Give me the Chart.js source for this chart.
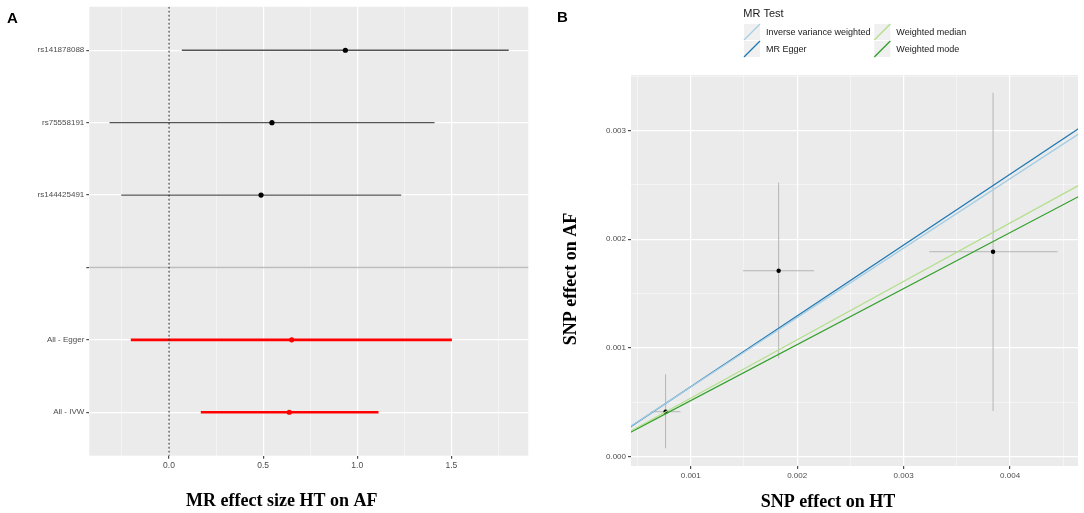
<!DOCTYPE html>
<html>
<head>
<meta charset="utf-8">
<title>MR forest and scatter plot</title>
<script src="https://cdn.jsdelivr.net/npm/chart.js@4.4.1/dist/chart.umd.min.js"></script>
<style>
  body { margin: 0; background: #fff; }
  #wrap { position: relative; width: 1084px; height: 513px; }
  canvas { position: absolute; top: 0; }
  #forest { left: 0; }
  #scatter { left: 540px; }
</style>
</head>
<body>
<div id="wrap">
  <canvas id="forest" width="540" height="513"></canvas>
  <canvas id="scatter" width="544" height="513"></canvas>
</div>
<script>
// --- Panel A: forest plot, rows top to bottom ('' is the separator row) ---
const forestRows = ['rs141878088', 'rs75558191', 'rs144425491', '', 'All - Egger', 'All - IVW'];
const forestEst  = [0.937, 0.547, 0.489, null, 0.652, 0.639];
const forestLow  = [0.068, -0.316, -0.254, null, -0.203, 0.169];
const forestHigh = [1.805, 1.411, 1.234, null, 1.503, 1.113];
const forestTicks = [0, 0.5, 1.0, 1.5];

// --- Panel B: SNP effects with error bars ---
const snpHT     = [0.000764, 0.001826, 0.00384];
const snpHTLow  = [0.000627, 0.001491, 0.00324];
const snpHTHigh = [0.000904, 0.002159, 0.004446];
const snpAF     = [0.000412, 0.001709, 0.001884];
const snpAFLow  = [0.0000754, 0.000903, 0.000419];
const snpAFHigh = [0.000756, 0.002519, 0.003347];

// MR method fits (slope, intercept)
const methods    = ['Inverse variance weighted', 'MR Egger', 'Weighted median', 'Weighted mode'];
const slopes     = [0.639, 0.652, 0.537, 0.515];
const intercepts = [0, -0.00001, 0, 0];

const scatterXTicks = [0.001, 0.002, 0.003, 0.004];
const scatterYTicks = [0.000, 0.001, 0.002, 0.003];

const methodColors = ['#a6cee3', '#1f78b4', '#b2df8a', '#33a02c'];
const tickColor = '#4d4d4d';
const sansFont = '"Liberation Sans", Arial, sans-serif';
const serifFont = '"Liberation Serif", "Times New Roman", serif';

Chart.defaults.font.family = sansFont;

const panelBg = {
    id: 'panelBg',
    beforeDraw(chart) {
        const { ctx, chartArea: a } = chart;
        ctx.save();
        ctx.fillStyle = '#ebebeb';
        ctx.fillRect(a.left, a.top, a.right - a.left, a.bottom - a.top);
        ctx.restore();
    }
};

function isOn(v, list) {
    return list.some(t => Math.abs(t - v) < 1e-9);
}

// majors plus the half-step minors that fall inside [min, max]
function withMinors(majors, min, max) {
    const step = majors[1] - majors[0];
    const out = [];
    const first = majors[0] - step / 2;
    for (let v = first - step * 4; v <= max + 1e-12; v += step / 2) {
        const r = Math.round(v / (step / 2)) * (step / 2);
        if (r >= min - 1e-12) out.push(r);
    }
    return out;
}

function gridStyle(majors) {
    return {
        color: ctx => isOn(ctx.tick.value, majors) ? '#ffffff' : 'rgba(255,255,255,0.75)',
        lineWidth: ctx => isOn(ctx.tick.value, majors) ? 1.2 : 0.6,
        tickColor: ctx => isOn(ctx.tick.value, majors) ? tickColor : 'rgba(0,0,0,0)',
        tickLength: 3,
        drawTicks: true
    };
}

// ===================== PANEL A =====================
const nRows = forestRows.length;
const forestXMin = -0.4235, forestXMax = 1.909;
const forestDatasets = [];

forestRows.forEach((label, i) => {
    const y = nRows - 1 - i;
    if (label === '') {
        forestDatasets.push({
            data: [{ x: forestXMin - 1, y: y }, { x: forestXMax + 1, y: y }],
            showLine: true, borderColor: '#bdbdbd', borderWidth: 1.5,
            pointRadius: 0, order: 3
        });
        return;
    }
    const summary = label.startsWith('All');
    forestDatasets.push({
        data: [{ x: forestLow[i], y: y }, { x: forestHigh[i], y: y }],
        showLine: true,
        borderColor: summary ? '#ff0000' : '#555555',
        borderWidth: summary ? 2.6 : 1.3,
        pointRadius: 0, order: 2
    });
});

forestDatasets.push({
    data: [{ x: 0, y: -1 }, { x: 0, y: nRows }],
    showLine: true, borderColor: '#222222', borderWidth: 1,
    borderDash: [2, 2], pointRadius: 0, order: 1
});

forestDatasets.push({
    data: forestRows.map((label, i) => label === '' ? null : { x: forestEst[i], y: nRows - 1 - i }).filter(p => p),
    pointRadius: 2.6,
    pointBackgroundColor: forestRows.filter(l => l !== '').map(l => l.startsWith('All') ? '#ff0000' : '#000000'),
    pointBorderWidth: 0,
    order: 0
});

const forestLabels = {
    id: 'forestLabels',
    afterDraw(chart) {
        const { ctx, chartArea: a } = chart;
        ctx.save();
        ctx.fillStyle = '#000';
        ctx.textBaseline = 'middle';
        ctx.font = 'bold 15px ' + sansFont;
        ctx.textAlign = 'left';
        ctx.fillText('A', 7, 19);
        ctx.font = 'bold 18px ' + serifFont;
        ctx.textAlign = 'center';
        ctx.fillText('MR effect size HT on AF', (a.left + a.right) / 2 - 27, a.bottom + 46);
        ctx.restore();
    }
};

new Chart(document.getElementById('forest'), {
    type: 'scatter',
    data: { datasets: forestDatasets },
    plugins: [panelBg, forestLabels],
    options: {
        responsive: false,
        animation: false,
        events: [],
        layout: { padding: { top: 6.7, right: 11.7, bottom: 0, left: 0 } },
        plugins: { legend: { display: false }, tooltip: { enabled: false } },
        scales: {
            x: {
                type: 'linear', min: forestXMin, max: forestXMax,
                afterBuildTicks: s => { s.ticks = withMinors(forestTicks, forestXMin, forestXMax).map(v => ({ value: v })); },
                afterFit: s => { s.height = 57.3; },
                border: { display: false },
                grid: gridStyle(forestTicks),
                ticks: {
                    autoSkip: false, maxRotation: 0, padding: 2,
                    color: tickColor, font: { size: 8.5 },
                    callback: v => isOn(v, forestTicks) ? v.toFixed(1) : ''
                }
            },
            y: {
                type: 'linear', min: -0.6, max: nRows - 0.4,
                afterBuildTicks: s => { s.ticks = forestRows.map((_, i) => ({ value: nRows - 1 - i })); },
                afterFit: s => { s.width = 89.3; },
                border: { display: false },
                grid: { color: '#ffffff', lineWidth: 1.2, tickColor: tickColor, tickLength: 3 },
                ticks: {
                    autoSkip: false, padding: 2,
                    color: tickColor, font: { size: 8 },
                    callback: v => forestRows[nRows - 1 - v]
                }
            }
        }
    }
});

// ===================== PANEL B =====================
const sxMin = 0.000439, sxMax = 0.004638;
const syMin = -0.0000874, syMax = 0.00351;
const scatterDatasets = [];

methods.forEach((m, i) => {
    scatterDatasets.push({
        label: m,
        data: [{ x: 0, y: intercepts[i] }, { x: 0.005, y: intercepts[i] + slopes[i] * 0.005 }],
        showLine: true, borderColor: methodColors[i], borderWidth: 1.3,
        pointRadius: 0, order: 0
    });
});

scatterDatasets.push({
    data: snpHT.map((x, i) => ({ x: x, y: snpAF[i] })),
    pointRadius: 2.2, pointBackgroundColor: '#000', pointBorderWidth: 0, order: 1
});

snpHT.forEach((x, i) => {
    scatterDatasets.push({
        data: [{ x: x, y: snpAFLow[i] }, { x: x, y: snpAFHigh[i] }],
        showLine: true, borderColor: '#b5b5b5', borderWidth: 1, pointRadius: 0, order: 2
    });
    scatterDatasets.push({
        data: [{ x: snpHTLow[i], y: snpAF[i] }, { x: snpHTHigh[i], y: snpAF[i] }],
        showLine: true, borderColor: '#b5b5b5', borderWidth: 1, pointRadius: 0, order: 2
    });
});

const scatterLabels = {
    id: 'scatterLabels',
    afterDraw(chart) {
        const { ctx, chartArea: a } = chart;
        ctx.save();
        ctx.fillStyle = '#000';
        ctx.textBaseline = 'middle';
        ctx.font = 'bold 15px ' + sansFont;
        ctx.textAlign = 'left';
        ctx.fillText('B', 17, 18);

        // axis titles
        ctx.font = 'bold 18px ' + serifFont;
        ctx.textAlign = 'center';
        ctx.fillText('SNP effect on HT', (a.left + a.right) / 2 - 26.5, a.bottom + 36);
        ctx.save();
        ctx.translate(31.7, (a.top + a.bottom) / 2 + 8.5);
        ctx.rotate(-Math.PI / 2);
        ctx.fillText('SNP effect on AF', 0, 0);
        ctx.restore();

        // legend
        ctx.textAlign = 'left';
        ctx.fillStyle = '#1a1a1a';
        ctx.font = '11px ' + sansFont;
        ctx.fillText('MR Test', 203.3, 14);
        ctx.font = '9px ' + sansFont;
        const colX = [204, 334.3];
        const rowY = [24, 41];
        methods.forEach((m, i) => {
            const kx = colX[Math.floor(i / 2)];
            const ky = rowY[i % 2];
            ctx.fillStyle = '#f0f0f0';
            ctx.fillRect(kx, ky, 16, 16);
            ctx.strokeStyle = methodColors[i];
            ctx.lineWidth = 1.3;
            ctx.beginPath();
            ctx.moveTo(kx, ky + 16);
            ctx.lineTo(kx + 16, ky);
            ctx.stroke();
            ctx.fillStyle = '#1a1a1a';
            ctx.fillText(m, kx + 22, ky + 8.7);
        });
        ctx.restore();
    }
};

new Chart(document.getElementById('scatter'), {
    type: 'scatter',
    data: { datasets: scatterDatasets },
    plugins: [panelBg, scatterLabels],
    options: {
        responsive: false,
        animation: false,
        events: [],
        layout: { padding: { top: 75, right: 6, bottom: 0, left: 0 } },
        plugins: { legend: { display: false }, tooltip: { enabled: false } },
        scales: {
            x: {
                type: 'linear', min: sxMin, max: sxMax,
                afterBuildTicks: s => { s.ticks = withMinors(scatterXTicks, sxMin, sxMax).map(v => ({ value: v })); },
                afterFit: s => { s.height = 47; },
                border: { display: false },
                grid: gridStyle(scatterXTicks),
                ticks: {
                    autoSkip: false, maxRotation: 0, padding: 2,
                    color: tickColor, font: { size: 8 },
                    callback: v => isOn(v, scatterXTicks) ? v.toFixed(3) : ''
                }
            },
            y: {
                type: 'linear', min: syMin, max: syMax,
                afterBuildTicks: s => { s.ticks = withMinors(scatterYTicks, syMin, syMax).map(v => ({ value: v })); },
                afterFit: s => { s.width = 91; },
                border: { display: false },
                grid: gridStyle(scatterYTicks),
                ticks: {
                    autoSkip: false, padding: 2,
                    color: tickColor, font: { size: 8 },
                    callback: v => isOn(v, scatterYTicks) ? v.toFixed(3) : ''
                }
            }
        }
    }
});
</script>
</body>
</html>
